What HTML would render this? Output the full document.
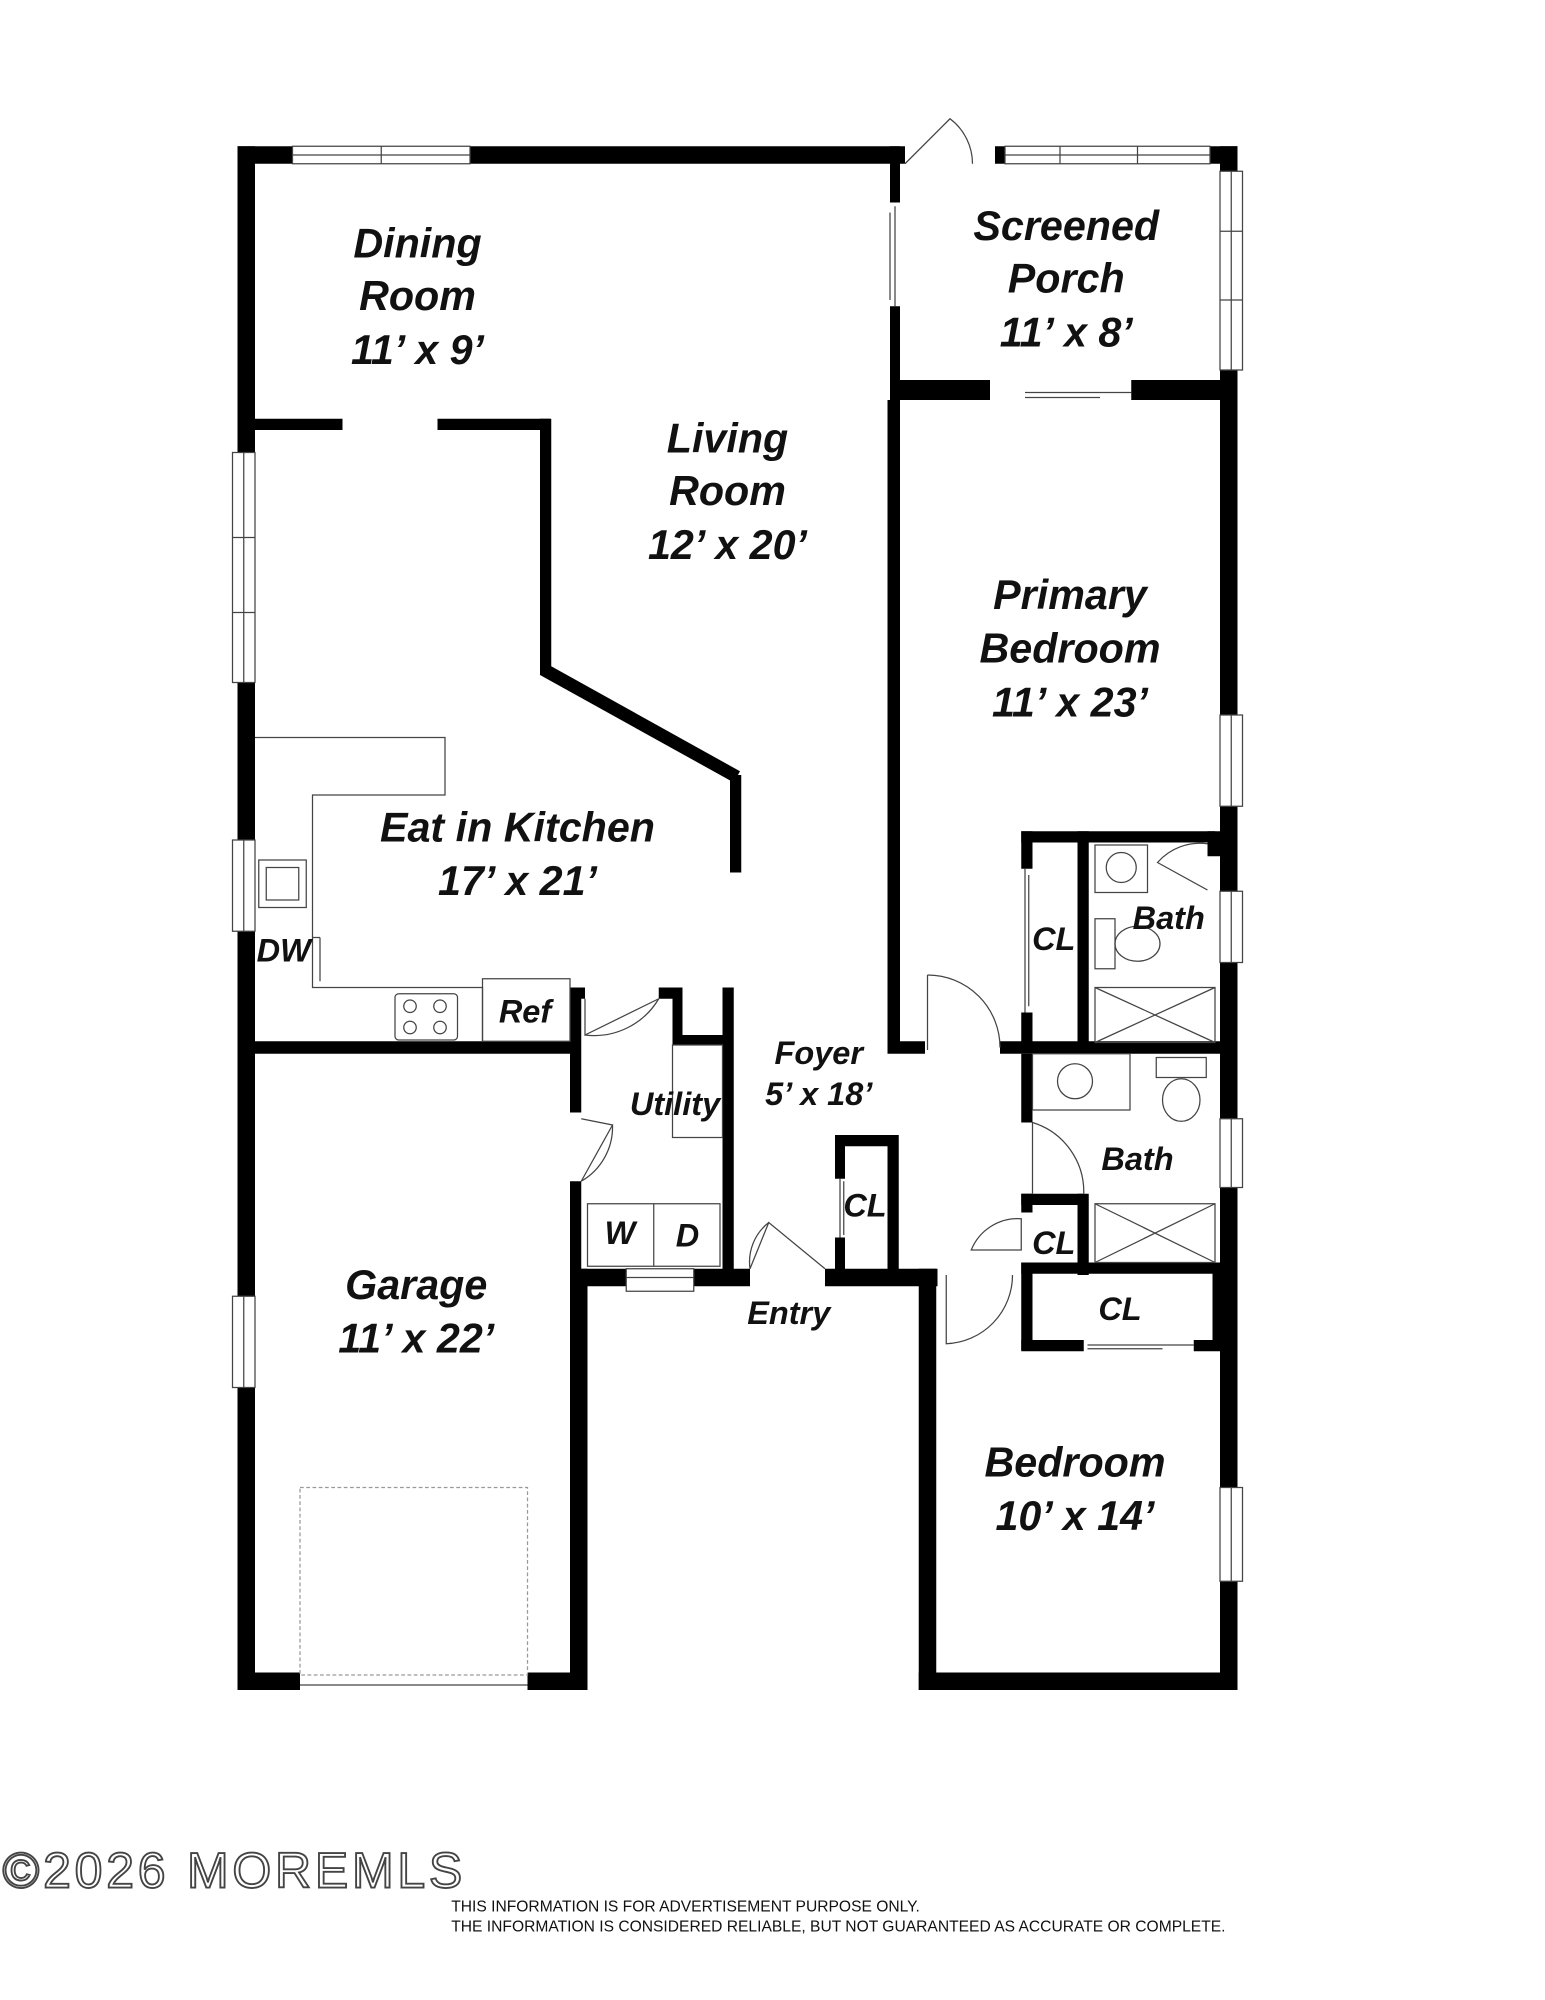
<!DOCTYPE html>
<html><head><meta charset="utf-8"><style>
html,body{margin:0;padding:0;background:#fff;}
svg{display:block}
text{font-family:"Liberation Sans",Arial,sans-serif;font-weight:bold;font-style:italic;fill:#111;text-anchor:middle}
.t{font-size:33px}
.s{font-size:26px}
.f{font-style:normal;font-weight:normal;text-anchor:start;font-size:12.5px}
</style></head><body>
<svg width="1545" height="2000" viewBox="0 0 1236 1600" preserveAspectRatio="none" xmlns="http://www.w3.org/2000/svg">
<g fill="#000">
<rect x="190" y="117" width="44" height="14"/>
<rect x="376" y="117" width="348" height="14"/>
<rect x="796" y="117" width="8" height="14"/>
<rect x="968" y="117" width="22" height="14"/>
<rect x="190" y="117" width="14" height="245"/>
<rect x="190" y="546" width="14" height="126"/>
<rect x="190" y="745" width="14" height="292"/>
<rect x="190" y="1110" width="14" height="242"/>
<rect x="976" y="117" width="14" height="20"/>
<rect x="976" y="296" width="14" height="276"/>
<rect x="976" y="645" width="14" height="68"/>
<rect x="976" y="770" width="14" height="125"/>
<rect x="976" y="950" width="14" height="240"/>
<rect x="976" y="1265" width="14" height="87"/>
<rect x="190" y="1338" width="50" height="14"/>
<rect x="422" y="1338" width="48" height="14"/>
<rect x="735" y="1338" width="255" height="14"/>
<rect x="456" y="1015" width="14" height="337"/>
<rect x="735" y="1015" width="14" height="337"/>
<rect x="456" y="1015" width="45" height="14"/>
<rect x="555" y="1015" width="45" height="14"/>
<rect x="660" y="1015" width="90" height="14"/>
<rect x="204" y="335" width="70" height="9"/>
<rect x="350" y="335" width="90" height="9"/>
<rect x="432" y="335" width="9" height="198"/>
<polygon points="432,528 592,617 587,626 432,540"/>
<rect x="584" y="620" width="9" height="78"/>
<rect x="204" y="833" width="258" height="10"/>
<rect x="456" y="790" width="9" height="100"/>
<rect x="456" y="945" width="9" height="75"/>
<rect x="456" y="790" width="12" height="9"/>
<rect x="527" y="790" width="18" height="9"/>
<rect x="538" y="790" width="8" height="45"/>
<rect x="538" y="828" width="47" height="8"/>
<rect x="578" y="790" width="9" height="228"/>
<rect x="712" y="117" width="8" height="45"/>
<rect x="712" y="245" width="8" height="64"/>
<rect x="712" y="304" width="80" height="16"/>
<rect x="905" y="304" width="85" height="16"/>
<rect x="710" y="320" width="10" height="520"/>
<rect x="710" y="833" width="30" height="10"/>
<rect x="800" y="833" width="176" height="10"/>
<rect x="668" y="908" width="50" height="9"/>
<rect x="710" y="908" width="9" height="110"/>
<rect x="668" y="908" width="8" height="35"/>
<rect x="668" y="990" width="8" height="28"/>
<rect x="817" y="665" width="155" height="9"/>
<rect x="817" y="665" width="9" height="30"/>
<rect x="817" y="810" width="9" height="28"/>
<rect x="862" y="665" width="9" height="175"/>
<rect x="966" y="665" width="10" height="20"/>
<rect x="817" y="843" width="9" height="55"/>
<rect x="817" y="955" width="9" height="15"/>
<rect x="817" y="955" width="50" height="9"/>
<rect x="862" y="955" width="9" height="65"/>
<rect x="817" y="1010" width="160" height="9"/>
<rect x="817" y="1010" width="9" height="70"/>
<rect x="817" y="1072" width="50" height="9"/>
<rect x="955" y="1072" width="25" height="9"/>
<rect x="970" y="1010" width="8" height="70"/>
</g>
<g fill="none" stroke="#444" stroke-width="1">
<rect x="234" y="117" width="142" height="14"/><line x1="234" y1="124" x2="376" y2="124"/><line x1="305" y1="117" x2="305" y2="131"/>
<rect x="804" y="117" width="164" height="14"/><line x1="804" y1="124" x2="968" y2="124"/><line x1="848" y1="117" x2="848" y2="131"/><line x1="910" y1="117" x2="910" y2="131"/>
<rect x="976" y="137" width="18" height="159"/><line x1="985" y1="137" x2="985" y2="296"/><line x1="976" y1="185" x2="994" y2="185"/><line x1="976" y1="240" x2="994" y2="240"/>
<rect x="976" y="572" width="18" height="73"/><line x1="985" y1="572" x2="985" y2="645"/>
<rect x="976" y="713" width="18" height="57"/><line x1="985" y1="713" x2="985" y2="770"/>
<rect x="976" y="895" width="18" height="55"/><line x1="985" y1="895" x2="985" y2="950"/>
<rect x="976" y="1190" width="18" height="75"/><line x1="985" y1="1190" x2="985" y2="1265"/>
<rect x="186" y="362" width="18" height="184"/><line x1="195" y1="362" x2="195" y2="546"/><line x1="186" y1="430" x2="204" y2="430"/><line x1="186" y1="490" x2="204" y2="490"/>
<rect x="186" y="672" width="18" height="73"/><line x1="195" y1="672" x2="195" y2="745"/>
<rect x="186" y="1037" width="18" height="73"/><line x1="195" y1="1037" x2="195" y2="1110"/>
<rect x="501" y="1015" width="54" height="18"/><line x1="501" y1="1022" x2="555" y2="1022"/>
<rect x="240" y="1190" width="182" height="150" stroke-dasharray="3,2" stroke="#999"/>
<line x1="240" y1="1348" x2="422" y2="1348"/>
<polyline points="204,590 356,590 356,636 250,636 250,790 386,790 386,833"/>
<rect x="386" y="783" width="70" height="50"/>
<rect x="316" y="795" width="50" height="37" rx="3"/>
<circle cx="328" cy="805" r="5"/><circle cx="352" cy="805" r="5"/><circle cx="328" cy="822" r="5"/><circle cx="352" cy="822" r="5"/>
<rect x="207" y="688" width="38" height="38"/><rect x="213" y="694" width="26" height="26"/>
<line x1="250" y1="750" x2="256" y2="750"/><line x1="256" y1="750" x2="256" y2="785"/>
<path d="M724,131 L760,95 A45,45 0 0 1 778,131"/>
<path d="M468,799 L468,828 L527,799"/><path d="M468,828 A60,60 0 0 0 527,799"/>
<path d="M465,895 L490,900 L465,945"/><path d="M465,945 A50,50 0 0 0 490,900"/>
<path d="M600,1015 L615,978 L660,1015"/><path d="M600,1015 A40,40 0 0 1 615,978"/>
<path d="M742,780 L742,840"/><path d="M742,780 A58,58 0 0 1 800,838"/>
<path d="M826,898 A58,58 0 0 1 867,955"/><line x1="826" y1="898" x2="826" y2="955"/>
<path d="M777,1000 A40,40 0 0 1 817,975 L817,1000 Z"/>
<path d="M757,1020 L757,1075 A55,55 0 0 0 810,1020"/>
<path d="M966,675 A45,45 0 0 0 926,690 L966,712"/>
<line x1="716" y1="165" x2="716" y2="245"/><line x1="712" y1="170" x2="712" y2="240"/>
<line x1="820" y1="695" x2="820" y2="810"/><line x1="823" y1="700" x2="823" y2="805"/>
<line x1="672" y1="943" x2="672" y2="990"/><line x1="675" y1="945" x2="675" y2="988"/>
<line x1="820" y1="314" x2="905" y2="314"/><line x1="820" y1="318" x2="880" y2="318"/>
<line x1="870" y1="1076" x2="955" y2="1076"/><line x1="870" y1="1079" x2="930" y2="1079"/>
<rect x="538" y="836" width="40" height="74"/>
<rect x="470" y="963" width="106" height="50"/><line x1="523" y1="963" x2="523" y2="1013"/>
<rect x="876" y="676" width="42" height="38"/><circle cx="897" cy="694" r="12"/>
<rect x="876" y="735" width="16" height="40"/><ellipse cx="910" cy="755" rx="18" ry="14"/>
<rect x="876" y="790" width="96" height="44"/><line x1="876" y1="790" x2="972" y2="834"/><line x1="972" y1="790" x2="876" y2="834"/>
<rect x="826" y="843" width="78" height="45"/><circle cx="860" cy="865" r="14"/>
<rect x="925" y="846" width="40" height="16"/><ellipse cx="945" cy="880" rx="15" ry="17"/>
<rect x="876" y="963" width="96" height="47"/><line x1="876" y1="963" x2="972" y2="1010"/><line x1="972" y1="963" x2="876" y2="1010"/>
</g>
<text class="t" x="334" y="206">Dining</text>
<text class="t" x="334" y="248">Room</text>
<text class="t" x="334" y="291">11’ x 9’</text>
<text class="t" x="853" y="192">Screened</text>
<text class="t" x="853" y="234">Porch</text>
<text class="t" x="853" y="277">11’ x 8’</text>
<text class="t" x="582" y="362">Living</text>
<text class="t" x="582" y="404">Room</text>
<text class="t" x="582" y="447">12’ x 20’</text>
<text class="t" x="856" y="487">Primary</text>
<text class="t" x="856" y="530">Bedroom</text>
<text class="t" x="856" y="573">11’ x 23’</text>
<text class="t" x="414" y="673">Eat in Kitchen</text>
<text class="t" x="414" y="716">17’ x 21’</text>
<text class="t" x="333" y="1039">Garage</text>
<text class="t" x="333" y="1082">11’ x 22’</text>
<text class="t" x="860" y="1181">Bedroom</text>
<text class="t" x="860" y="1224">10’ x 14’</text>
<text class="s" x="655" y="851">Foyer</text>
<text class="s" x="655" y="884">5’ x 18’</text>
<text class="s" x="540" y="892">Utility</text>
<text class="s" x="631" y="1059">Entry</text>
<text class="s" x="420" y="818">Ref</text>
<text class="s" x="227" y="769">DW</text>
<text class="s" x="496" y="995">W</text>
<text class="s" x="550" y="997">D</text>
<text class="s" x="843" y="760">CL</text>
<text class="s" x="935" y="743">Bath</text>
<text class="s" x="910" y="936">Bath</text>
<text class="s" x="692" y="973">CL</text>
<text class="s" x="843" y="1003">CL</text>
<text class="s" x="896" y="1056">CL</text>
<text x="2" y="1510" style="font-size:40px;font-weight:normal;font-style:normal;fill:#fff;stroke:#444;stroke-width:1.5;letter-spacing:3px;text-anchor:start">©2026 MOREMLS</text>
<text class="f" x="361" y="1529">THIS INFORMATION IS FOR ADVERTISEMENT PURPOSE ONLY.</text>
<text class="f" x="361" y="1545">THE INFORMATION IS CONSIDERED RELIABLE, BUT NOT GUARANTEED AS ACCURATE OR COMPLETE.</text>
</svg>
</body></html>
